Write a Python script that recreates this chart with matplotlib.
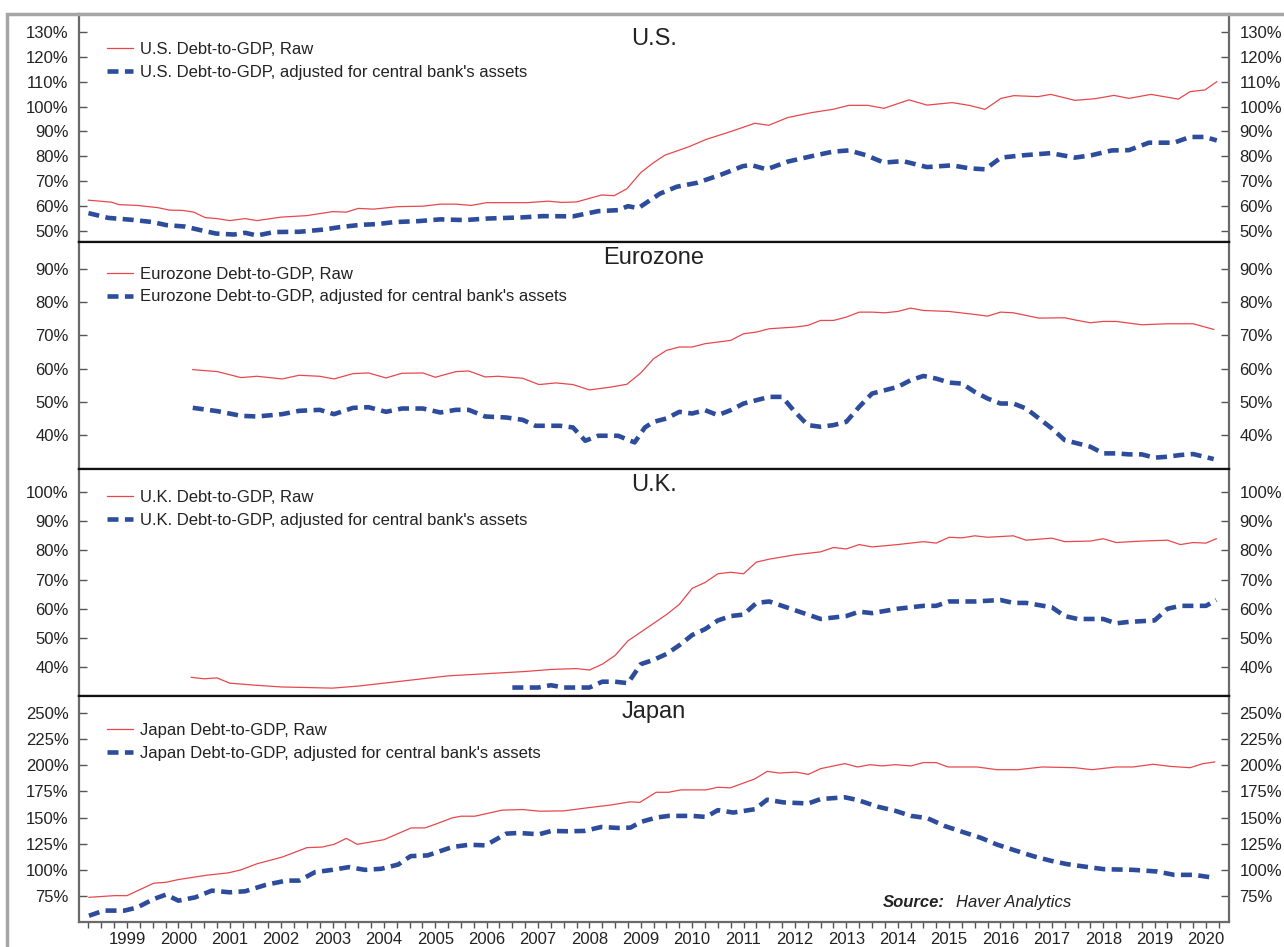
import matplotlib.pyplot as plt
from matplotlib.patches import Rectangle

plt.rcParams['font.family'] = ['Liberation Sans', 'DejaVu Sans']

RED = '#e8474c'
BLUE = '#2d4c9c'

# x labels (mid-year positions)
years = list(range(1999, 2021))

# ---- U.S. ----
us_raw_t = [1998.75, 1999.2, 1999.35, 1999.7, 2000.1, 2000.33, 2000.58, 2000.8, 2001.02, 2001.25,
            2001.5, 2001.8, 2002.03, 2002.5, 2003.0, 2003.5, 2003.77, 2004.0, 2004.3, 2004.77,
            2005.26, 2005.6, 2005.9, 2006.2, 2006.5, 2007.28, 2007.7, 2007.97, 2008.25, 2008.74,
            2008.98, 2009.23, 2009.5, 2009.75, 2009.97, 2010.44, 2010.77, 2011.24, 2011.72, 2011.99,
            2012.36, 2012.83, 2013.24, 2013.55, 2013.92, 2014.23, 2014.72, 2015.07, 2015.56, 2015.89,
            2016.2, 2016.51, 2016.76, 2017.23, 2017.48, 2017.95, 2018.35, 2018.71, 2019.0, 2019.43,
            2019.96, 2020.19, 2020.48, 2020.71]
us_raw_v = [62.4, 61.6, 60.6, 60.3, 59.4, 58.4, 58.3, 57.6, 55.4, 55.0,
            54.2, 55.0, 54.2, 55.6, 56.2, 57.8, 57.6, 59.1, 58.8, 59.8,
            60.0, 60.8, 60.8, 60.3, 61.4, 61.4, 62.0, 61.5, 61.7, 64.5,
            64.2, 67.0, 73.5, 77.5, 80.5, 83.9, 86.8, 89.9, 93.3, 92.5,
            95.6, 97.6, 98.9, 100.5, 100.5, 99.3, 102.7, 100.6, 101.6, 100.5,
            98.9, 103.3, 104.4, 104.0, 104.9, 102.5, 103.2, 104.5, 103.3, 104.9,
            103.0, 106.0, 106.7, 110.0]
us_adj_t = [1998.75, 1999.13, 1999.6, 2000.0, 2000.26, 2000.63, 2000.9, 2001.23, 2001.58, 2001.8,
            2002.03, 2002.36, 2002.85, 2003.33, 2003.65, 2004.05, 2004.38, 2004.7, 2005.18, 2005.6,
            2006.08, 2006.48, 2007.2, 2007.6, 2008.18, 2008.67, 2009.06, 2009.25, 2009.45, 2009.87,
            2010.2, 2010.6, 2011.08, 2011.49, 2011.65, 2011.95, 2012.36, 2012.83, 2013.24, 2013.55,
            2013.88, 2014.23, 2014.6, 2015.07, 2015.56, 2015.89, 2016.2, 2016.51, 2016.92, 2017.48,
            2017.95, 2018.28, 2018.67, 2019.0, 2019.39, 2019.88, 2020.19, 2020.48, 2020.71]
us_adj_v = [57.2, 55.3, 54.5, 53.6, 52.4, 51.8, 50.5, 49.0, 48.6, 49.3,
            48.2, 49.6, 49.7, 50.6, 51.6, 52.5, 52.8, 53.6, 54.0, 54.7,
            54.4, 55.0, 55.5, 56.0, 55.9, 58.0, 58.4, 60.0, 59.2, 65.0,
            67.8, 69.4, 72.8, 76.1, 76.5, 74.8, 77.9, 80.1, 81.9, 82.4,
            80.5, 77.5, 78.1, 75.7, 76.4, 75.2, 74.8, 79.5, 80.4, 81.3,
            79.5, 80.5, 82.4, 82.5, 85.5, 85.5, 87.8, 87.8, 86.4]

# ---- Eurozone ----
eu_raw_t = [2000.78, 2001.26, 2001.72, 2002.03, 2002.52, 2002.85, 2003.25, 2003.53, 2003.9, 2004.2,
            2004.54, 2004.85, 2005.26, 2005.5, 2005.9, 2006.15, 2006.47, 2006.72, 2007.2, 2007.52,
            2007.85, 2008.18, 2008.5, 2008.9, 2009.23, 2009.5, 2009.75, 2010.0, 2010.25, 2010.5,
            2010.75, 2011.0, 2011.25, 2011.5, 2011.75, 2012.0, 2012.5, 2012.75, 2013.0, 2013.25,
            2013.5, 2013.75, 2014.0, 2014.25, 2014.5, 2014.75, 2015.0, 2015.5, 2016.0, 2016.25,
            2016.5, 2016.75, 2017.25, 2017.75, 2018.0, 2018.25, 2018.5, 2018.75, 2019.25, 2019.75,
            2020.25, 2020.65]
eu_raw_v = [59.7, 59.1, 57.3, 57.7, 56.9, 58.0, 57.7, 56.9, 58.5, 58.7,
            57.2, 58.6, 58.7, 57.4, 59.1, 59.3, 57.5, 57.7, 57.1, 55.2,
            55.7, 55.2, 53.6, 54.4, 55.3, 58.7, 63.0, 65.5, 66.5, 66.5,
            67.5, 68.0, 68.5, 70.5, 71.0, 72.0, 72.5, 73.0, 74.5, 74.5,
            75.5, 77.0, 77.0, 76.8, 77.2, 78.2, 77.5, 77.2, 76.3, 75.8,
            77.0, 76.8, 75.2, 75.3, 74.5, 73.8, 74.2, 74.2, 73.2, 73.5,
            73.5, 71.8]
eu_adj_t = [2000.78, 2001.26, 2001.72, 2002.03, 2002.52, 2002.85, 2003.25, 2003.53, 2003.9, 2004.2,
            2004.54, 2004.85, 2005.26, 2005.6, 2005.9, 2006.15, 2006.47, 2006.88, 2007.2, 2007.45,
            2007.93, 2008.18, 2008.42, 2008.67, 2009.06, 2009.38, 2009.58, 2009.75, 2010.0, 2010.25,
            2010.5, 2010.75, 2011.0, 2011.25, 2011.5, 2011.75, 2012.0, 2012.25, 2012.5, 2012.75,
            2013.0, 2013.25, 2013.5, 2013.75, 2014.0, 2014.25, 2014.5, 2014.75, 2015.0, 2015.25,
            2015.5, 2015.75, 2016.0, 2016.25, 2016.5, 2016.75, 2017.0, 2017.25, 2017.5, 2017.75,
            2018.0, 2018.25, 2018.5, 2018.75, 2019.0, 2019.25, 2019.5, 2019.75, 2020.0, 2020.25,
            2020.65]
eu_adj_v = [48.2, 47.2, 45.8, 45.6, 46.3, 47.3, 47.6, 46.3, 48.2, 48.4,
            47.0, 48.0, 48.0, 46.8, 47.6, 47.6, 45.6, 45.3, 44.6, 42.8,
            42.8, 42.3, 38.3, 39.8, 39.8, 37.8, 42.3, 44.0, 45.0, 47.0,
            46.5, 47.5, 46.0, 47.5, 49.5, 50.5, 51.5, 51.5, 47.0, 43.0,
            42.5, 43.0, 44.0, 48.5, 52.5, 53.5, 54.5, 56.5, 57.8, 57.0,
            55.8, 55.5, 53.0, 51.0, 49.5, 49.5, 48.0, 45.0, 42.0, 38.5,
            37.5, 36.5, 34.5, 34.5, 34.2, 34.2, 33.2, 33.5, 34.0, 34.3,
            32.8]

# ---- U.K. ----
uk_raw_t = [2000.75, 2001.0, 2001.25, 2001.5, 2002.0, 2002.5, 2003.0, 2003.5, 2004.0, 2004.5,
            2005.0, 2005.5, 2005.75, 2006.25, 2006.75, 2007.25, 2007.75, 2008.25, 2008.5, 2008.75,
            2009.0, 2009.25, 2009.5, 2009.75, 2010.0, 2010.25, 2010.5, 2010.75, 2011.0, 2011.25,
            2011.5, 2011.75, 2012.0, 2012.5, 2013.0, 2013.25, 2013.5, 2013.75, 2014.0, 2014.5,
            2015.0, 2015.25, 2015.5, 2015.75, 2016.0, 2016.25, 2016.75, 2017.0, 2017.5, 2017.75,
            2018.25, 2018.5, 2018.75, 2019.25, 2019.75, 2020.0, 2020.25, 2020.5, 2020.7]
uk_raw_v = [36.5, 36.0, 36.3, 34.5, 33.8, 33.2, 33.0, 32.8, 33.5, 34.5,
            35.5, 36.5, 37.0, 37.5, 38.0, 38.5, 39.2, 39.5, 39.0, 41.0,
            44.0, 49.0, 52.0, 55.0, 58.0, 61.5, 67.0, 69.0, 72.0, 72.5,
            72.0, 76.0, 77.0, 78.5, 79.5, 81.0, 80.5, 82.0, 81.2, 82.0,
            83.0, 82.5, 84.5, 84.3, 85.0, 84.5, 85.0, 83.5, 84.2, 83.0,
            83.2, 84.0, 82.7, 83.2, 83.5, 82.0, 82.7, 82.5, 84.0]
uk_adj_t = [2007.0, 2007.5, 2007.75, 2008.0, 2008.25, 2008.5, 2008.75, 2009.0, 2009.25, 2009.5,
            2009.75, 2010.0, 2010.25, 2010.5, 2010.75, 2011.0, 2011.25, 2011.5, 2011.75, 2012.0,
            2012.25, 2012.5, 2012.75, 2013.0, 2013.25, 2013.5, 2013.75, 2014.0, 2014.5, 2015.0,
            2015.25, 2015.5, 2016.0, 2016.5, 2016.75, 2017.0, 2017.5, 2017.75, 2018.0, 2018.5,
            2018.75, 2019.0, 2019.5, 2019.75, 2020.0, 2020.5, 2020.7]
uk_adj_v = [33.0, 33.0, 33.8, 33.0, 33.0, 33.0, 35.0, 35.0, 34.5, 41.0,
            42.5, 44.5, 47.5, 51.0, 53.0, 56.0, 57.5, 58.0, 62.0, 62.5,
            61.0, 59.5, 58.0, 56.5, 57.0, 57.5, 59.0, 58.5, 60.0, 61.0,
            61.0, 62.5, 62.5, 63.0, 62.0, 62.0, 60.5, 57.5, 56.5, 56.5,
            55.0, 55.5, 56.0, 60.0, 61.0, 61.0, 63.0]

# ---- Japan ----
jp_raw_t = [1998.76, 1999.25, 1999.5, 2000.02, 2000.26, 2000.5, 2001.06, 2001.47, 2001.72, 2002.03,
            2002.52, 2003.0, 2003.3, 2003.53, 2003.77, 2003.98, 2004.5, 2005.03, 2005.3, 2005.5,
            2005.83, 2006.0, 2006.27, 2006.8, 2007.2, 2007.52, 2008.0, 2008.5, 2008.9, 2009.3,
            2009.48, 2009.8, 2010.04, 2010.28, 2010.77, 2011.0, 2011.24, 2011.72, 2011.96, 2012.2,
            2012.52, 2012.76, 2013.0, 2013.47, 2013.72, 2013.96, 2014.2, 2014.45, 2014.76, 2015.0,
            2015.25, 2015.48, 2016.05, 2016.43, 2016.84, 2017.31, 2017.95, 2018.28, 2018.75, 2019.08,
            2019.47, 2019.8, 2020.19, 2020.44, 2020.67]
jp_raw_v = [73.7, 75.3, 75.3, 87.2, 88.1, 90.7, 94.9, 97.1, 100.0, 105.8,
            112.2, 121.2, 121.8, 124.4, 130.1, 124.4, 128.8, 140.1, 140.1, 143.6,
            149.7, 151.3, 151.3, 157.1, 157.7, 156.1, 156.4, 159.6, 161.9, 165.1,
            164.5, 174.2, 174.2, 176.5, 176.5, 179.0, 178.4, 187.0, 194.2, 192.6,
            193.5, 191.3, 196.8, 201.6, 198.4, 200.6, 199.4, 200.6, 199.4, 202.6,
            202.6, 198.4, 198.4, 195.8, 195.8, 198.4, 197.7, 195.8, 198.4, 198.4,
            201.0, 199.0, 197.7, 201.6, 203.2]
jp_adj_t = [1998.76, 1999.05, 1999.45, 1999.7, 2000.02, 2000.26, 2000.5, 2000.83, 2001.15, 2001.5,
            2001.8, 2002.2, 2002.6, 2002.85, 2003.16, 2003.5, 2003.82, 2004.13, 2004.45, 2004.78,
            2005.02, 2005.35, 2005.83, 2006.16, 2006.48, 2006.88, 2007.12, 2007.52, 2007.76, 2008.08,
            2008.4, 2008.73, 2009.05, 2009.3, 2009.5, 2009.8, 2010.04, 2010.5, 2010.77, 2011.0,
            2011.3, 2011.72, 2011.96, 2012.28, 2012.76, 2013.0, 2013.47, 2013.72, 2014.12, 2014.45,
            2014.76, 2015.08, 2015.41, 2015.81, 2016.12, 2016.43, 2016.84, 2017.15, 2017.48, 2017.79,
            2018.12, 2018.52, 2019.08, 2019.55, 2019.88, 2020.27, 2020.67]
jp_adj_v = [56.1, 61.0, 61.0, 64.0, 72.1, 76.3, 70.5, 73.7, 80.1, 78.5,
            79.5, 85.6, 89.7, 89.7, 97.8, 100.0, 102.6, 100.0, 101.0, 105.1,
            113.1, 113.8, 121.8, 124.0, 123.4, 134.6, 135.3, 134.0, 137.2, 136.9,
            137.2, 141.0, 140.1, 140.4, 145.8, 150.0, 151.6, 151.6, 150.6, 157.1,
            154.8, 158.0, 167.1, 164.5, 163.5, 167.7, 169.4, 166.8, 160.3, 156.5,
            151.6, 149.4, 142.0, 135.5, 130.6, 124.2, 117.7, 112.9, 108.7, 105.5,
            103.2, 100.6, 100.0, 98.4, 95.2, 95.2, 92.3]

us_ticks = [50, 60, 70, 80, 90, 100, 110, 120, 130]
eu_ticks = [40, 50, 60, 70, 80, 90]
uk_ticks = [40, 50, 60, 70, 80, 90, 100]
jp_ticks = [75, 100, 125, 150, 175, 200, 225, 250]

panels = [
    ("U.S.", "U.S.", us_raw_t, us_raw_v, us_adj_t, us_adj_v, (45.6, 137.2), us_ticks),
    ("Eurozone", "Eurozone", eu_raw_t, eu_raw_v, eu_adj_t, eu_adj_v, (29.8, 98.1), eu_ticks),
    ("U.K.", "U.K.", uk_raw_t, uk_raw_v, uk_adj_t, uk_adj_v, (30.1, 107.9), uk_ticks),
    ("Japan", "Japan", jp_raw_t, jp_raw_v, jp_adj_t, jp_adj_v, (50.1, 266.3), jp_ticks),
]

# pixel layout (top, bottom) of each panel, title offset, legend offset
W, H = 1284, 947
rows = [(14, 242, 25, 28), (242, 469, 16, 25), (469, 696, 16, 21), (696, 922, 16, 27)]
left_px, right_px = 79, 1229

fig = plt.figure(figsize=(W / 100, H / 100), dpi=100)
fig.add_artist(Rectangle((7 / W, -0.05), 1.2, 1 - 14 / H + 0.05, transform=fig.transFigure,
                         fill=False, edgecolor='#a6a6a6', lw=2.5))

quarters = [1998.75 + 0.25 * i for i in range(89)]
axes = []
for i, (title, name, rt, rv, at, av, ylim, yt) in enumerate(panels):
    top, bot, toff, loff = rows[i]
    ax = fig.add_axes([left_px / W, 1 - bot / H, (right_px - left_px) / W, (bot - top) / H])
    axes.append(ax)
    ax.plot(at, av, color=BLUE, lw=3.3, dashes=(2.4, 1.4), dash_capstyle='butt',
            label=name + " Debt-to-GDP, adjusted for central bank's assets")
    ax.plot(rt, rv, color=RED, lw=0.9, label=name + " Debt-to-GDP, Raw")
    ax.set_xlim(1998.566, 2020.948)
    ax.set_ylim(*ylim)
    ax.set_yticks(yt)
    ax.set_yticklabels([f"{v}%" for v in yt])
    ax.tick_params(axis='y', direction='in', length=6, width=1, color='#555555',
                   labelsize=12, labelcolor='#222222', left=True, right=True,
                   labelleft=True, labelright=True, pad=7.5)
    ax.set_xticks(quarters)
    if i == 3:
        ax.set_xticklabels([str(int(q)) if abs(q - int(q) - 0.5) < 1e-6 else '' for q in quarters])
        ax.tick_params(axis='x', direction='out', length=4, width=1, color='#555555',
                       labelsize=12, labelcolor='#222222', pad=3)
    else:
        ax.tick_params(axis='x', bottom=False, labelbottom=False)
    for s in ['left', 'right']:
        ax.spines[s].set_color('#6a6a6a')
        ax.spines[s].set_linewidth(1.6)
    ax.spines['top'].set_color('#a6a6a6' if i == 0 else '#111111')
    ax.spines['top'].set_linewidth(1.6)
    ax.spines['bottom'].set_color('#6a6a6a' if i == 3 else '#111111')
    ax.spines['bottom'].set_linewidth(1.6)

    ph = bot - top
    ax.text(0.5, 1 - toff / ph, title, transform=ax.transAxes, ha='center', va='center',
            fontsize=17, color='#222222')
    h, l = ax.get_legend_handles_labels()
    ax.legend(h[::-1], l[::-1], loc='upper left',
              bbox_to_anchor=((107 - left_px) / (right_px - left_px), 1 - loff / ph),
              frameon=False, fontsize=12, handlelength=1.55, handletextpad=0.42,
              labelspacing=0.45, borderpad=0, borderaxespad=0, labelcolor='#222222')

ax = axes[3]
ax.text((883 - left_px) / (right_px - left_px), 0.088, "Source:", transform=ax.transAxes,
        ha='left', va='center', fontsize=12, fontweight='bold', fontstyle='italic', color='#222222')
ax.text((956 - left_px) / (right_px - left_px), 0.088, "Haver Analytics", transform=ax.transAxes,
        ha='left', va='center', fontsize=12, fontstyle='italic', color='#222222')

fig.savefig('out.png', dpi=100)
